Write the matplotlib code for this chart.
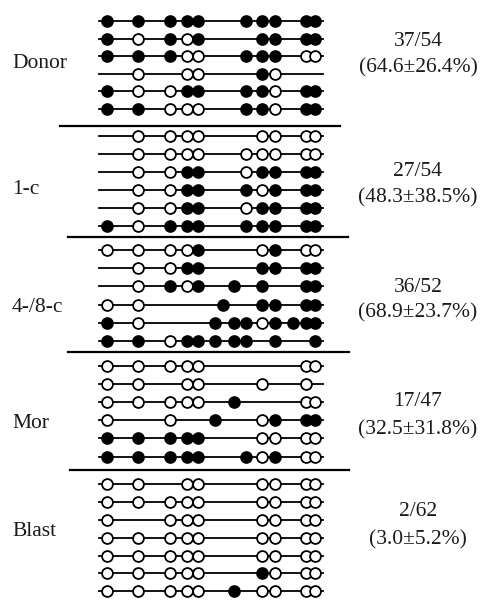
import matplotlib
matplotlib.use("Agg")
import matplotlib.pyplot as plt

# CpG site positions (schematic units along the sequenced region)
cpg_sites = [106.7, 137.7, 170, 187.3, 198.3, 215, 222.7, 234, 246,
             261.7, 275, 293, 305.5, 315]

# Methylation state per clone, one char per CpG site:
# 'F' = methylated (filled), 'O' = unmethylated (open), '.' = not shown
donor_rows = ["FFFFF...FFF.FF",
              "FOFOF....FF.FF",
              "FFFOO...FFF.OO",
              ".O.OO....FO...",
              "FOOFF...FFO.FF",
              "FFOOO...FFO.FF"]
c1_rows = [".OOOO....OO.OO",
           ".OOOO...OOO.OO",
           ".OOFF...OFF.FF",
           ".OOFF...FOF.FF",
           ".OOFF...OFF.FF",
           "FOFFF...FFF.FF"]
c48_rows = ["OOOOF....OF.OO",
            ".OOFF....FF.FF",
            ".OFOF..F.F..FF",
            "OO....F..FF.FF",
            "FO...F.FFOFFFF",
            "FFOFFF.FF.F..F"]
mor_rows = ["OOOOO.......OO",
            "OO.OO....O..O.",
            "OOOOO..F....OO",
            "O.O..F...OF.FF",
            "FFFFF....OO.OO",
            "FFFFF...FOF.OO"]
blast_rows = ["OO.OO....OO.OO",
              "OOOOO....OO.OO",
              "O.OOO....OO.OO",
              "OOOOO....OO.OO",
              "OOOOO....OO.OO",
              "OOOOO....FO.OO",
              "OOOOO..F.OO.OO"]

group_labels = ["Donor", "1-c", "4-/8-c", "Mor", "Blast"]
counts = ["37/54", "27/54", "36/52", "17/47", "2/62"]
percents = ["(64.6±26.4%)", "(48.3±38.5%)", "(68.9±23.7%)",
            "(32.5±31.8%)", "(3.0±5.2%)"]

groups = [donor_rows, c1_rows, c48_rows, mor_rows, blast_rows]

# layout (figure pixel space)
group_top = [21, 136, 250, 366, 484.3]
row_step = [17.5, 18.0, 18.2, 18.1, 17.8]
label_y = [63, 190, 307, 423, 531]
count_y = [41.7, 171.7, 288, 401.7, 511.7]
pct_y = [68.3, 198, 313, 430, 540]
sep_y = [125.5, 236.5, 351.7, 470]
sep_x0 = [60, 68, 68, 70]
sep_x1 = [340, 348, 349, 349]
line_x0, line_x1 = 99, 323

fig = plt.figure(figsize=(4.83, 6.03), dpi=100)
ax = fig.add_axes([0, 0, 1, 1])
ax.set_xlim(0, 483)
ax.set_ylim(603, 0)
ax.axis("off")

serif = ["Liberation Serif", "DejaVu Serif"]
ms, mew = 7.8, 1.3

for g, rows in enumerate(groups):
    for r, states in enumerate(rows):
        y = group_top[g] + r * row_step[g]
        ax.plot([line_x0, line_x1], [y, y], color="black", lw=1.3, zorder=1)
        xs_f = [cpg_sites[i] for i, s in enumerate(states) if s == "F"]
        xs_o = [cpg_sites[i] for i, s in enumerate(states) if s == "O"]
        ax.plot(xs_o, [y] * len(xs_o), "o", ms=ms, mfc="white", mec="black",
                mew=mew, zorder=2)
        ax.plot(xs_f, [y] * len(xs_f), "o", ms=ms, mfc="black", mec="black",
                mew=mew, zorder=3)
    ax.text(12, label_y[g], group_labels[g], family=serif, fontsize=15.5,
            ha="left", va="center", color="#1a1a1a")
    ax.text(418, count_y[g], counts[g], family=serif, fontsize=15.5,
            ha="center", va="center", color="#1a1a1a")
    ax.text(418, pct_y[g], percents[g], family=serif, fontsize=15.5,
            ha="center", va="center", color="#1a1a1a")

for y, x0, x1 in zip(sep_y, sep_x0, sep_x1):
    ax.plot([x0, x1], [y, y], color="black", lw=1.6, zorder=1)

fig.savefig("out.png", dpi=100)
